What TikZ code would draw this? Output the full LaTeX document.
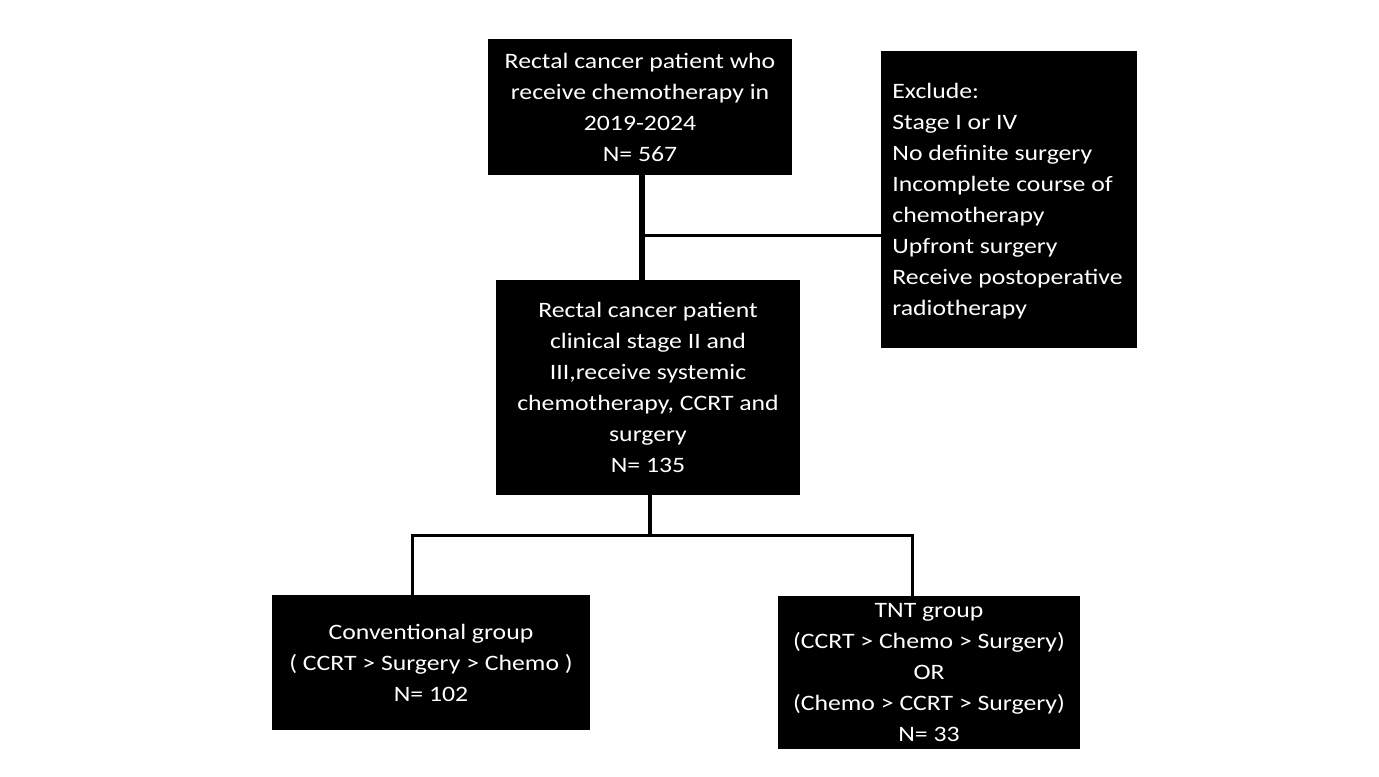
\documentclass[tikz,border=0pt]{standalone}
\usepackage{fontspec}
\setmainfont{Carlito}[FakeStretch=1.17]
\begin{document}
\begin{tikzpicture}[x=0.5pt,y=-0.5pt,
  box/.style={fill=black,text=white,inner sep=0pt,align=center,
    font=\fontsize{11}{15.5}\selectfont},
  conn/.style={line width=1.5pt,black}]
\useasboundingbox (0,0) rectangle (1379,776);
\node[box,minimum width=152pt,minimum height=68pt] (top) at (640,107)
  {Rectal cancer patient who\\receive chemotherapy in\\2019-2024\\N= 567};
\node[box,minimum width=128pt,minimum height=148.5pt] (excl) at (1009,199.5) {};
\node[anchor=west,text=white,inner sep=0pt,align=left,
  font=\fontsize{11}{15.5}\selectfont] (excltxt) at (892,201)
  {Exclude:\\Stage I or IV\\No definite surgery\\Incomplete course of\\chemotherapy\\Upfront surgery\\Receive postoperative\\radiotherapy};
\node[box,minimum width=152pt,minimum height=107.5pt] (mid) at (648,387.5)
  {Rectal cancer patient\\clinical stage II and\\III,receive systemic\\chemotherapy, CCRT and\\surgery\\N= 135};
\node[box,minimum width=159pt,minimum height=67.5pt] (lb) at (431,662.5)
  {Conventional group\\( CCRT > Surgery > Chemo )\\N= 102};
\node[box,minimum width=151pt,minimum height=76.5pt] (rb) at (929,672.5)
  {TNT group\\(CCRT > Chemo > Surgery)\\OR\\(Chemo > CCRT > Surgery)\\N= 33};
\coordinate (vx) at (642,0);
\coordinate (j1) at (642,235);
\coordinate (br) at (650,535);
\coordinate (bl) at (412,535);
\coordinate (brr) at (912,535);
\draw[line width=3pt] (vx |- top.south) -- (vx |- mid.north);
\draw[conn] (j1) -- (j1 -| excl.west);
\draw[line width=2pt] (br |- mid.south) -- (br);
\draw[conn] (bl |- lb.north) -- (bl) -- (brr) -- (brr |- rb.north);
\end{tikzpicture}
\end{document}
